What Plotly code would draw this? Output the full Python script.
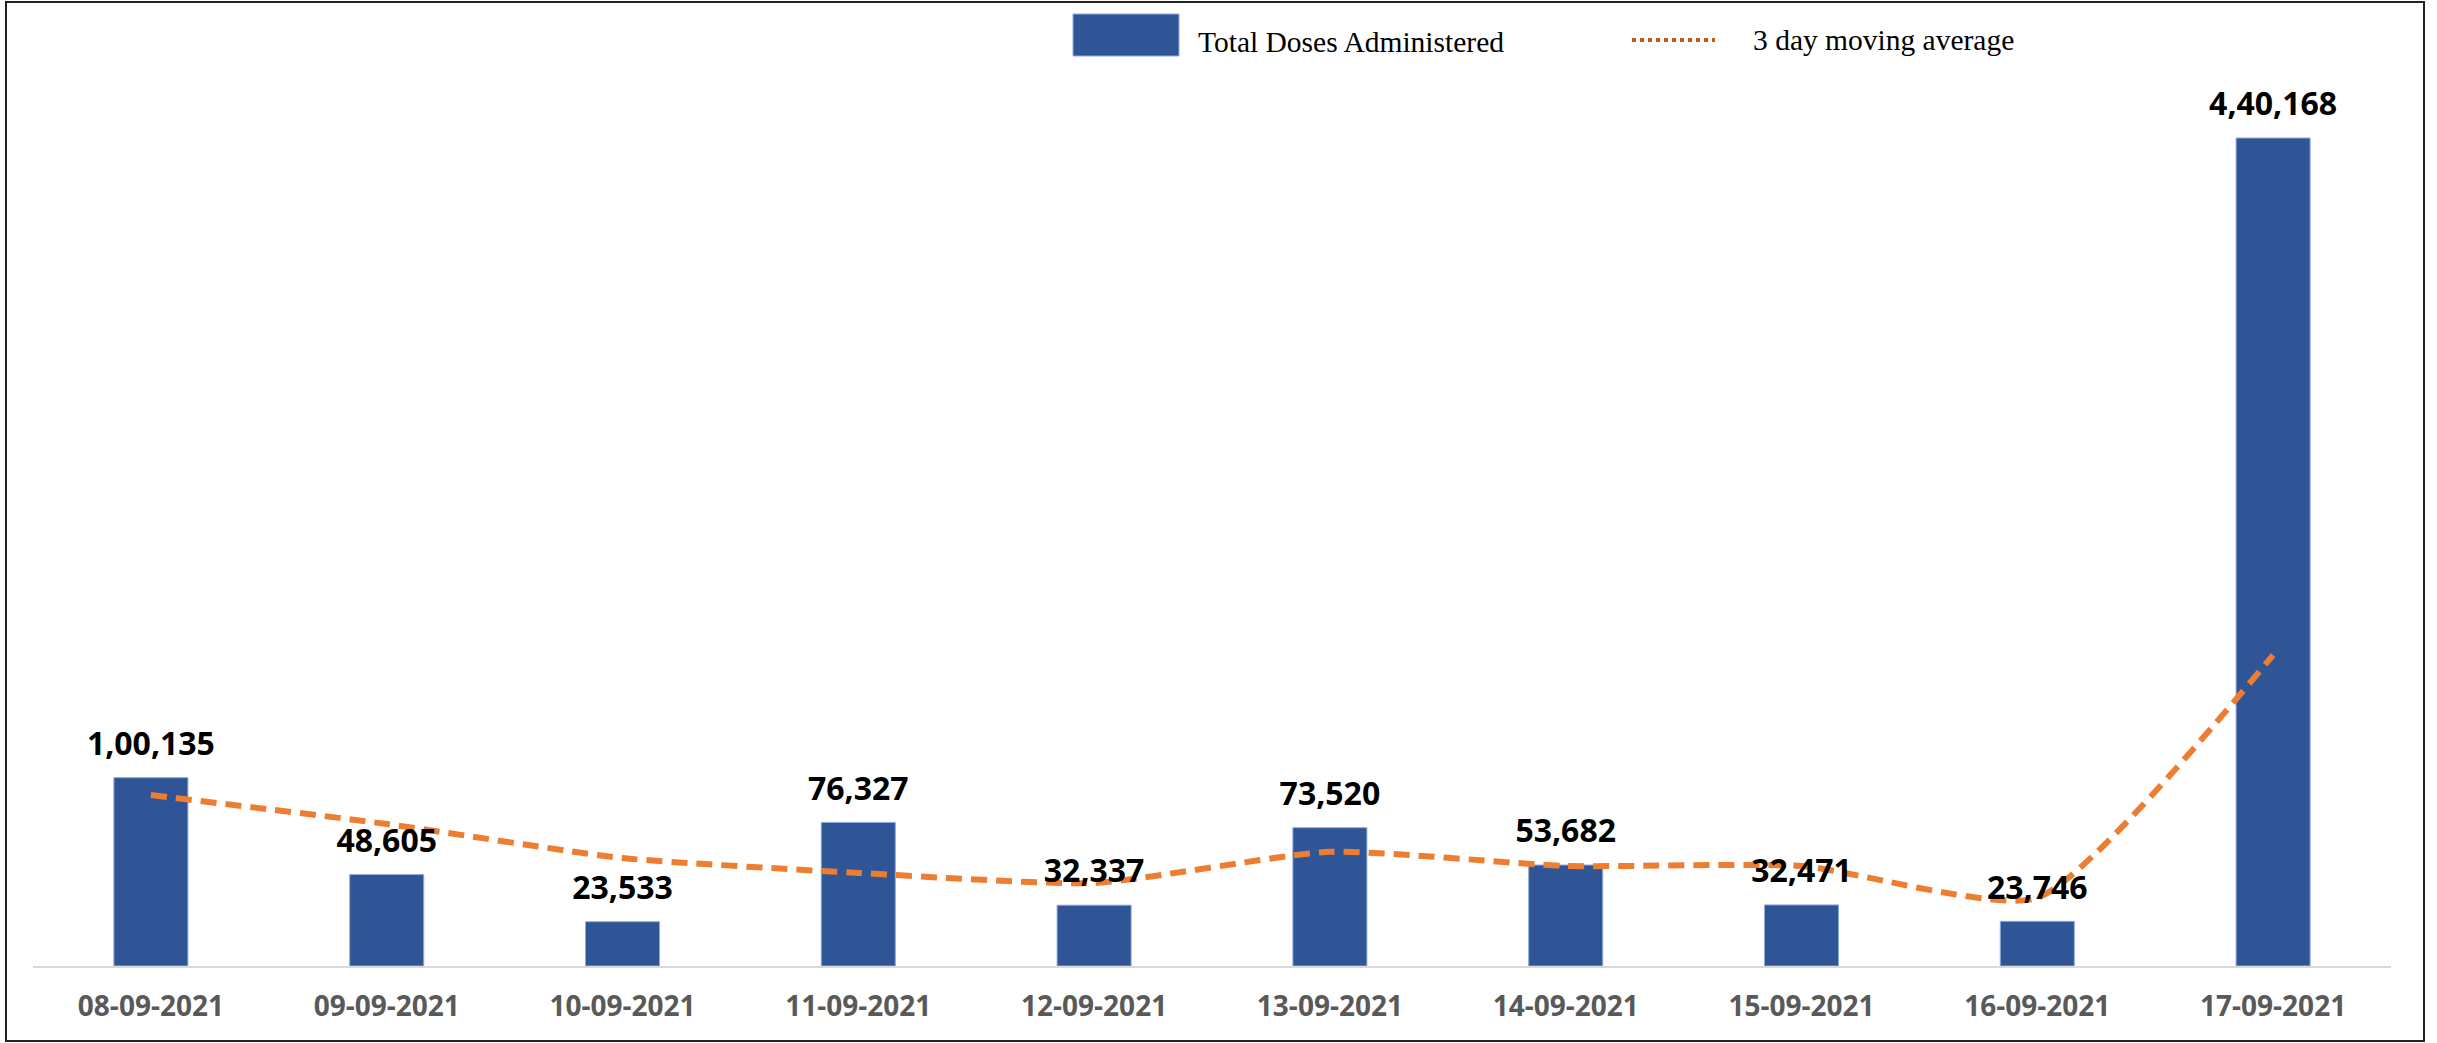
import plotly.graph_objects as go

dates = ["08-09-2021", "09-09-2021", "10-09-2021", "11-09-2021", "12-09-2021",
         "13-09-2021", "14-09-2021", "15-09-2021", "16-09-2021", "17-09-2021"]
doses = [100135, 48605, 23533, 76327, 32337, 73520, 53682, 32471, 23746, 440168]
moving_avg = [90900, 75500, 57400, 49500, 44100, 60700, 53200, 53200, 36200, 165300]
labels = ["1,00,135", "48,605", "23,533", "76,327", "32,337",
          "73,520", "53,682", "32,471", "23,746", "4,40,168"]

BAR_COLOR = "#2F5597"
LINE_COLOR = "#ED7D31"

fig = go.Figure()
fig.add_trace(go.Bar(
    x=dates, y=doses, name="Total Doses Administered",
    marker=dict(color=BAR_COLOR, line=dict(color="#8FAADC", width=1)),
    hoverinfo="x+y",
))
fig.add_trace(go.Scatter(
    x=dates, y=moving_avg, name="3 day moving average", mode="lines",
    line=dict(color=LINE_COLOR, width=6, dash="16px,9px", shape="spline", smoothing=0.55),
))
fig.add_trace(go.Scatter(
    x=dates, y=doses, mode="markers+text", text=labels, textposition="top center",
    marker=dict(size=22, opacity=0),
    textfont=dict(family="Open Sans", size=32, color="#000000", weight="bold"),
    hoverinfo="skip", showlegend=False, cliponaxis=False,
))

W, H = 2437, 1043
L, R, T, B = 33, 2391, 120, 966
pw, ph = R - L, B - T

def px(x):
    return (x - L) / pw

def py(y):
    return (B - y) / ph

shapes = [
    dict(type="rect", xref="paper", yref="paper", x0=px(6), x1=px(2424), y0=py(1041), y1=py(2),
         line=dict(color="#222222", width=2), fillcolor="rgba(0,0,0,0)", layer="below"),
    dict(type="rect", xref="paper", yref="paper", x0=px(1073), x1=px(1179), y0=py(56), y1=py(14),
         line=dict(color="#8FAADC", width=1), fillcolor=BAR_COLOR),
    dict(type="line", xref="paper", yref="paper", x0=px(1632), x1=px(1715), y0=py(40), y1=py(40),
         line=dict(color="#C55A11", width=4, dash="dot")),
]
annotations = [
    dict(xref="paper", yref="paper", x=px(1196), y=py(42), xanchor="left", yanchor="middle",
         text="Total Doses Administered", showarrow=False,
         font=dict(family="Liberation Serif", size=29.5, color="#000000")),
    dict(xref="paper", yref="paper", x=px(1751), y=py(40), xanchor="left", yanchor="middle",
         text="3 day moving average", showarrow=False,
         font=dict(family="Liberation Serif", size=29.5, color="#000000")),
]

fig.update_layout(
    width=W, height=H,
    margin=dict(l=L, r=W - R, t=T, b=H - B, pad=0),
    paper_bgcolor="white", plot_bgcolor="white",
    showlegend=False,
    bargap=0.686,
    shapes=shapes, annotations=annotations,
    xaxis=dict(
        range=[-0.5, len(dates) - 0.5],
        showgrid=False, showline=True, linecolor="#D9D9D9", linewidth=2,
        ticks="", tickfont=dict(family="Open Sans", size=28, color="#595959", weight="bold"),
        ticklabelstandoff=14, zeroline=False,
    ),
    yaxis=dict(
        range=[0, 449760], showgrid=False, showline=False, showticklabels=False,
        ticks="", zeroline=False,
    ),
)

fig.write_html("out.html", config={"displayModeBar": False},
               post_script="document.body.style.margin='0';document.body.style.overflow='hidden';")
